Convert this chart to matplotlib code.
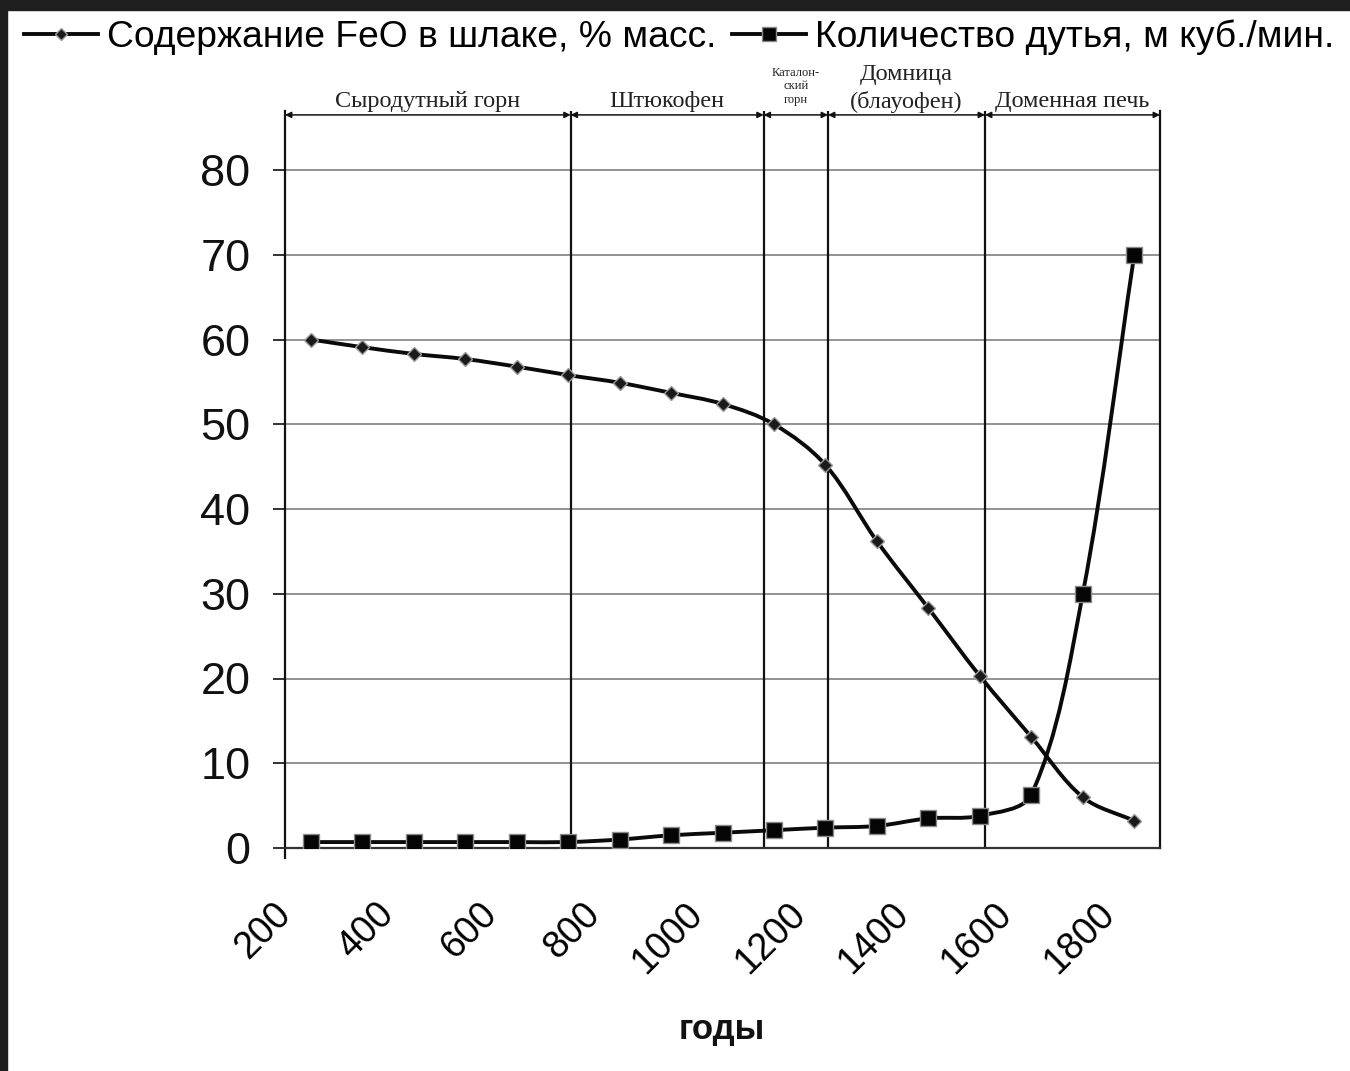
import numpy as np
import matplotlib
matplotlib.use('Agg')
import matplotlib.pyplot as plt
import matplotlib.transforms as mtransforms
from matplotlib.path import Path
from matplotlib.patches import PathPatch, Rectangle
from matplotlib.lines import Line2D

# ---------------- data ----------------
years = [200, 300, 400, 500, 600, 700, 800, 900, 1000, 1100, 1200,
         1300, 1400, 1500, 1600, 1700, 1800]
feo = [60.0, 59.1, 58.3, 57.7, 56.8, 55.8, 54.9, 53.7, 52.4, 50.0, 45.2,
       36.2, 28.3, 20.3, 13.1, 6.0, 3.2]
blast = [0.7, 0.7, 0.7, 0.7, 0.7, 0.7, 1.0, 1.5, 1.8, 2.1, 2.4,
         2.6, 3.5, 3.8, 6.3, 30.0, 70.0]
xtick_labels = [200, 400, 600, 800, 1000, 1200, 1400, 1600, 1800]
yticks = [0, 10, 20, 30, 40, 50, 60, 70, 80]
period_names = ["Сыродутный горн", "Штюкофен", "Каталон-\nский\nгорн",
                "Домница\n(блауофен)", "Доменная печь"]
period_bounds = [150, 705, 1080, 1205, 1510, 1850]
label_feo = "Содержание FeO в шлаке, % масс."
label_blast = "Количество дутья, м куб./мин."
xlabel = "годы"

# ---------------- style ----------------
plt.rcParams['font.family'] = ['Liberation Sans', 'DejaVu Sans']
W, H = 1350, 1071
fig = plt.figure(figsize=(W / 100, H / 100), dpi=100)
fig.patch.set_facecolor('white')

# dark frame of the screenshot (top and left)
fig.add_artist(Rectangle((0, 1 - 10 / H), 1, 10 / H, transform=fig.transFigure,
                         color='#1e1e1e', zorder=0))
fig.add_artist(Rectangle((0, 0), 7 / W, 1, transform=fig.transFigure,
                         color='#1e1e1e', zorder=0))

ymax = 87.0
left, right = 285 / W, 1160 / W
bottom = 1 - 848 / H
top = 1 - (848 - ymax * 8.475) / H
ax = fig.add_axes([left, bottom, right - left, top - bottom])
ax.set_xlim(150, 1850)
ax.set_ylim(0, ymax)

ax.spines['top'].set_visible(False)
for s in ['left', 'right', 'bottom']:
    ax.spines[s].set_linewidth(1.6)
    ax.spines[s].set_color('#111111')
ax.spines['bottom'].set_color('#333333')

ax.set_yticks(yticks)
ax.set_yticklabels([str(v) for v in yticks], fontsize=32.5)
ax.tick_params(axis='y', direction='out', length=9, width=1.2, pad=16, colors='#111111')
ax.grid(axis='y', color='#8a8a8a', lw=1.3, zorder=1)
ax.set_axisbelow(True)

ax.set_xticks(xtick_labels)
ax.set_xticklabels([str(v) for v in xtick_labels], fontsize=27, rotation=45,
                   ha='right', va='center', rotation_mode='anchor')
ax.tick_params(axis='x', length=0, pad=44)
offset = mtransforms.ScaledTranslation(-25 / 100, 0, fig.dpi_scale_trans)
for lab in ax.get_xticklabels():
    lab.set_transform(lab.get_transform() + offset)

# small downward extension of the y axis
ax.plot([150, 150], [0, -1.2], color='#111111', lw=1.6, clip_on=False)

# period separators, arrows and names
serif = ['Liberation Serif', 'DejaVu Serif']
ax.vlines(period_bounds[1:-1], 0, ymax, color='#111111', lw=1.6, zorder=2)
arrow_y = 86.5
for i, name in enumerate(period_names):
    a, b = period_bounds[i], period_bounds[i + 1]
    ax.annotate('', xy=(a, arrow_y), xytext=(b, arrow_y),
                arrowprops=dict(arrowstyle='<|-|>', lw=1.1, color='#111111',
                                mutation_scale=9, shrinkA=0, shrinkB=0),
                annotation_clip=False)
    xc = (a + b) / 2
    if i == 2:
        ax.text(xc, 87.6, name, ha='center', va='bottom', fontsize=9,
                family=serif, linespacing=1.15, color='#222222', clip_on=False)
    elif i == 3:
        ax.text(xc, 86.7, name, ha='center', va='bottom', fontsize=17.5,
                family=serif, linespacing=1.35, color='#222222', clip_on=False)
    else:
        ax.text(xc, 86.8, name, ha='center', va='bottom', fontsize=17.5,
                family=serif, color='#222222', clip_on=False)


def smooth_path(x, y):
    """Smoothed line through the points (chord-weighted Catmull-Rom in screen space)."""
    pts = ax.transData.transform(np.column_stack([x, y]).astype(float))
    n = len(pts)
    inv = ax.transData.inverted()
    verts = [pts[0]]
    codes = [Path.MOVETO]
    for i in range(n - 1):
        p0 = pts[i - 1] if i > 0 else pts[i]
        p1 = pts[i]
        p2 = pts[i + 1]
        p3 = pts[i + 2] if i + 2 < n else pts[i + 1]
        d01 = np.hypot(*(p1 - p0))
        d12 = np.hypot(*(p2 - p1))
        d23 = np.hypot(*(p3 - p2))
        f1 = 2 * d12 / (d01 + d12) if (d01 + d12) > 0 else 1
        f2 = 2 * d12 / (d12 + d23) if (d12 + d23) > 0 else 1
        c1 = p1 + (p2 - p0) / 6.0 * f1
        c2 = p2 - (p3 - p1) / 6.0 * f2
        verts += [c1, c2, p2]
        codes += [Path.CURVE4] * 3
    verts = inv.transform(np.array(verts))
    return Path(verts, codes)


for ys in (feo, blast):
    ax.add_patch(PathPatch(smooth_path(years, ys), fill=False, lw=2.8,
                           edgecolor='#0a0a0a', zorder=4, capstyle='round'))

ax.plot(years, feo, ls='none', marker='D', ms=7.5, mfc='#1a1a1a',
        mec='#9a9a9a', mew=1.0, zorder=5)
ax.plot(years, blast, ls='none', marker='s', ms=11, mfc='#050505',
        mec='#8a8a8a', mew=1.0, zorder=5)

# legend
h1 = Line2D([], [], color='#0a0a0a', lw=2.8, marker='D', ms=6.5,
            mfc='#1a1a1a', mec='#9a9a9a')
h2 = Line2D([], [], color='#0a0a0a', lw=2.8, marker='s', ms=10,
            mfc='#050505', mec='#8a8a8a')
fig.legend([h1, h2], [label_feo, label_blast], ncol=2, loc='center',
           bbox_to_anchor=(0.503, 1 - 37 / H), frameon=False, fontsize=26.8,
           handlelength=2.0, handletextpad=0.25, columnspacing=0.4,
           borderaxespad=0)

fig.text(722 / W, 1 - 1030 / H, xlabel, ha='center', va='center',
         fontsize=25, fontweight='bold', color='#111111')

fig.savefig('out.png', dpi=100, facecolor='white')
